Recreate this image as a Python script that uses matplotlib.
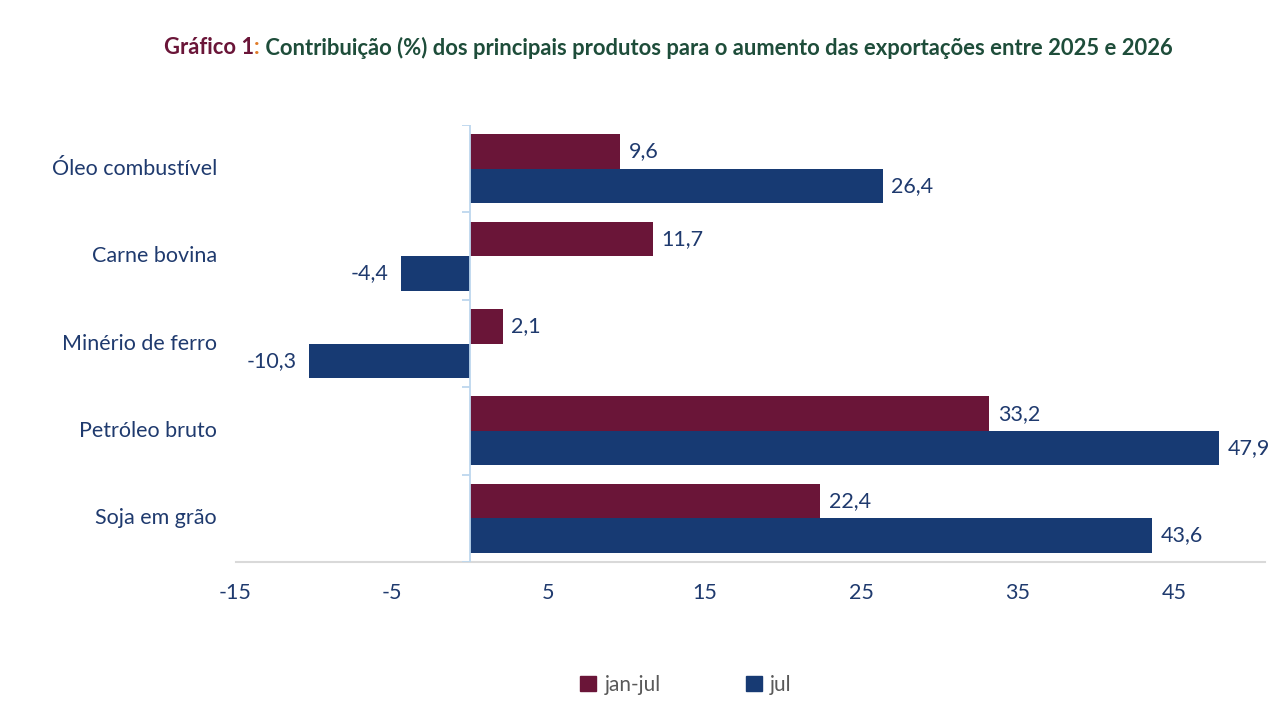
import matplotlib.pyplot as plt
import numpy as np
from matplotlib.patches import Patch

# Data
produtos = ['Óleo combustível', 'Carne bovina', 'Minério de ferro', 'Petróleo bruto', 'Soja em grão']
jan_jul = [9.6, 11.7, 2.1, 33.2, 22.4]
jul = [26.4, -4.4, -10.3, 47.9, 43.6]
x_ticks = [-15, -5, 5, 15, 25, 35, 45]

cor_jan = '#6A1538'
cor_jul = '#173A73'
cor_texto = '#1F3A6E'

plt.rcParams['font.family'] = ['Lato', 'DejaVu Sans']

fig = plt.figure(figsize=(12.8, 7.2), dpi=100)
ax = fig.add_axes([0.184, 0.2194, 0.804, 0.607])

y = np.arange(len(produtos))
h = 0.395
ax.barh(y - h / 2, jan_jul, height=h, color=cor_jan, label='jan-jul')
ax.barh(y + h / 2, jul, height=h, color=cor_jul, label='jul')

ax.set_xlim(-15, 50.8)
ax.set_ylim(len(produtos) - 0.5, -0.5)

fs = 15.5

def fmt(v):
    return f'{v:.1f}'.replace('.', ',')

for yy, vals in [(y - h / 2, jan_jul), (y + h / 2, jul)]:
    for yi, v in zip(yy, vals):
        if v >= 0:
            ax.annotate(fmt(v), (v, yi), xytext=(6, 0), textcoords='offset points',
                        ha='left', va='center', fontsize=fs, color=cor_texto)
        else:
            ax.annotate(fmt(v), (v, yi), xytext=(-9, 0), textcoords='offset points',
                        ha='right', va='center', fontsize=fs, color=cor_texto)

# category labels
for yi, nome in zip(y, produtos):
    ax.text(-0.018, yi, nome, transform=ax.get_yaxis_transform(), ha='right', va='center',
            fontsize=fs, color=cor_texto)

# axes styling
for s in ['top', 'right', 'left']:
    ax.spines[s].set_visible(False)
ax.spines['bottom'].set_color('#D9D9D9')
ax.spines['bottom'].set_linewidth(1.5)
ax.set_yticks([])
ax.set_xticks(x_ticks)
ax.set_xticklabels([str(t) for t in x_ticks])
ax.tick_params(axis='x', length=0, pad=15, labelsize=fs, labelcolor=cor_texto)

# vertical axis at zero with boundary ticks
ax.axvline(0, color='#BDD7EE', linewidth=1.3, zorder=3)
limites = np.arange(len(produtos) + 1) - 0.5
ax.hlines(limites, -0.5, 0, color='#BDD7EE', linewidth=1.3, zorder=3)

# title (three colours)
partes = [('Gráfico 1', '#6A1538'), (':', '#E07B28'),
          (' Contribuição (%) dos principais produtos para o aumento das exportações entre 2025 e 2026', '#1E4D3A')]
textos = []
x0 = 0.0
for txt, cor in partes:
    t = fig.text(x0, 0.934, txt, fontsize=15.8, fontweight='bold', color=cor, ha='left', va='center')
    fig.canvas.draw()
    x0 = t.get_window_extent().x1 / fig.bbox.width
    textos.append(t)
largura = x0
inicio = 668 / 1280 - largura / 2
for t in textos:
    px, py = t.get_position()
    t.set_position((px + inicio, py))

handles = [Patch(color=cor_jan), Patch(color=cor_jul)]
fig.legend(handles, ['jan-jul', 'jul'], loc='center', bbox_to_anchor=(0.536, 0.049), ncol=2,
           frameon=False, fontsize=15, handlelength=0.75, handleheight=0.75, handletextpad=0.4,
           columnspacing=4.1, labelcolor='#595959')

fig.savefig('out.png', dpi=100)
